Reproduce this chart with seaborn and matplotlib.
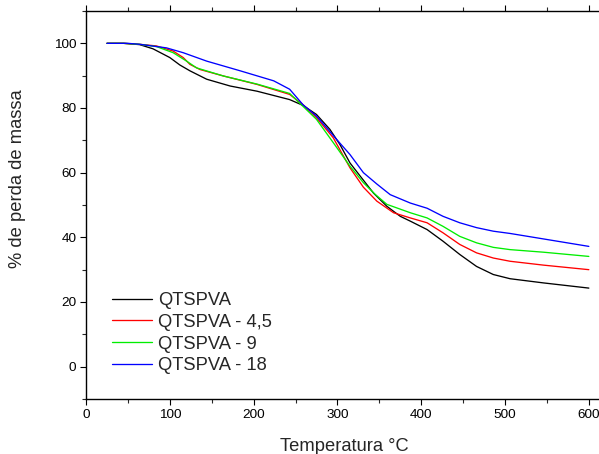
import matplotlib
matplotlib.use("Agg")
import matplotlib.pyplot as plt
import seaborn as sns
import pandas as pd
from matplotlib.ticker import MultipleLocator

# ---- data ----
names = ["QTSPVA", "QTSPVA - 4,5", "QTSPVA - 9", "QTSPVA - 18"]
colors = ["#000000", "#ff0000", "#00ee00", "#0000ff"]

t_black = [25, 45, 64, 80, 100, 112, 124, 144, 172, 204, 243, 259, 275, 291, 303, 315, 327, 343, 359, 375, 387, 407, 426, 446, 466, 486, 506, 546, 600]
m_black = [100, 100, 99.6, 98.3, 95.6, 93.3, 91.5, 88.9, 86.8, 85.2, 82.6, 80.8, 78.0, 73.4, 68.7, 63.0, 59.0, 53.7, 49.6, 46.5, 45.0, 42.4, 38.8, 34.7, 31.0, 28.5, 27.2, 25.9, 24.3]

t_red = [25, 45, 64, 84, 104, 116, 124, 136, 164, 204, 243, 259, 275, 295, 315, 331, 347, 367, 387, 407, 426, 446, 466, 486, 506, 546, 600]
m_red = [100, 100, 99.7, 99.2, 97.6, 95.6, 93.5, 91.9, 89.9, 87.3, 84.2, 81.0, 77.0, 70.8, 61.5, 55.5, 51.2, 47.6, 46.0, 44.5, 41.4, 37.8, 35.2, 33.6, 32.6, 31.4, 30.0]

t_green = [25, 45, 64, 84, 104, 120, 132, 164, 204, 243, 259, 275, 295, 315, 331, 345, 359, 387, 407, 426, 446, 466, 486, 506, 546, 600]
m_green = [100, 100, 99.7, 99.0, 97.1, 94.5, 92.4, 89.9, 87.4, 84.5, 80.5, 76.5, 69.3, 62.0, 56.9, 53.3, 50.2, 47.6, 46.0, 43.4, 40.3, 38.3, 36.9, 36.2, 35.4, 34.1]

t_blue = [25, 50, 64, 96, 116, 144, 184, 224, 243, 259, 275, 299, 315, 331, 347, 363, 375, 387, 407, 426, 446, 466, 486, 506, 546, 600]
m_blue = [100, 100, 99.7, 98.6, 97.1, 94.5, 91.5, 88.4, 85.8, 81.0, 77.5, 70.3, 65.6, 60.0, 56.5, 53.2, 51.9, 50.6, 49.0, 46.5, 44.5, 43.0, 41.9, 41.2, 39.5, 37.2]

x_ticks = [0, 100, 200, 300, 400, 500, 600]
y_ticks = [0, 20, 40, 60, 80, 100]

series = [(t_black, m_black), (t_red, m_red), (t_green, m_green), (t_blue, m_blue)]
rows = []
for name, (ts, ms) in zip(names, series):
    for t, m in zip(ts, ms):
        rows.append({"T": t, "massa": m, "amostra": name})
df = pd.DataFrame(rows)

sns.set_style("ticks")
plt.rcParams["font.family"] = ["Liberation Sans", "DejaVu Sans"]

fig = plt.figure(figsize=(5.99, 4.54), dpi=100)
ax_l, ax_r, ax_t, ax_b = 86, 605.6, 11, 399
ax = fig.add_axes([ax_l / 599, 1 - ax_b / 454, (ax_r - ax_l) / 599, (ax_b - ax_t) / 454])

for name, c in zip(names, colors):
    sub = df[df["amostra"] == name]
    sns.lineplot(data=sub, x="T", y="massa", sort=False, estimator=None,
                 color=c, linewidth=0.95, ax=ax, label=name)

ax.set_xlim(0, 620)
ax.set_ylim(-10, 110)
ax.set_xticks(x_ticks)
ax.set_yticks(y_ticks)
ax.xaxis.set_minor_locator(MultipleLocator(50))
ax.yaxis.set_minor_locator(MultipleLocator(10))
ax.tick_params(axis="both", which="major", direction="out", length=4.5, width=0.8,
               labelsize=9.7, colors="black", pad=2.5)
ax.tick_params(axis="both", which="minor", direction="out", length=3, width=0.8)
ax.tick_params(axis="x", which="both", top=True)
for s in ["top", "bottom", "left", "right"]:
    ax.spines[s].set_linewidth(1.0)
    ax.spines[s].set_color("black")

ax.set_xlabel("Temperatura \u00b0C", fontsize=13.2)
ax.set_ylabel("% de perda de massa", fontsize=13.2)
W = ax_r - ax_l
H = ax_b - ax_t
ax.xaxis.set_label_coords((344 - ax_l) / W, (ax_b - 438) / H)
ax.yaxis.set_label_coords((26 - ax_l) / W, (ax_b - 179) / H)

leg = ax.legend(loc="upper left", bbox_to_anchor=(112 / 599, 1 - 292 / 454),
                bbox_transform=fig.transFigure, frameon=False, fontsize=13.2,
                handlelength=2.2, handletextpad=0.33, labelspacing=0.26,
                borderpad=0, borderaxespad=0)

fig.savefig("out.png", dpi=100)
